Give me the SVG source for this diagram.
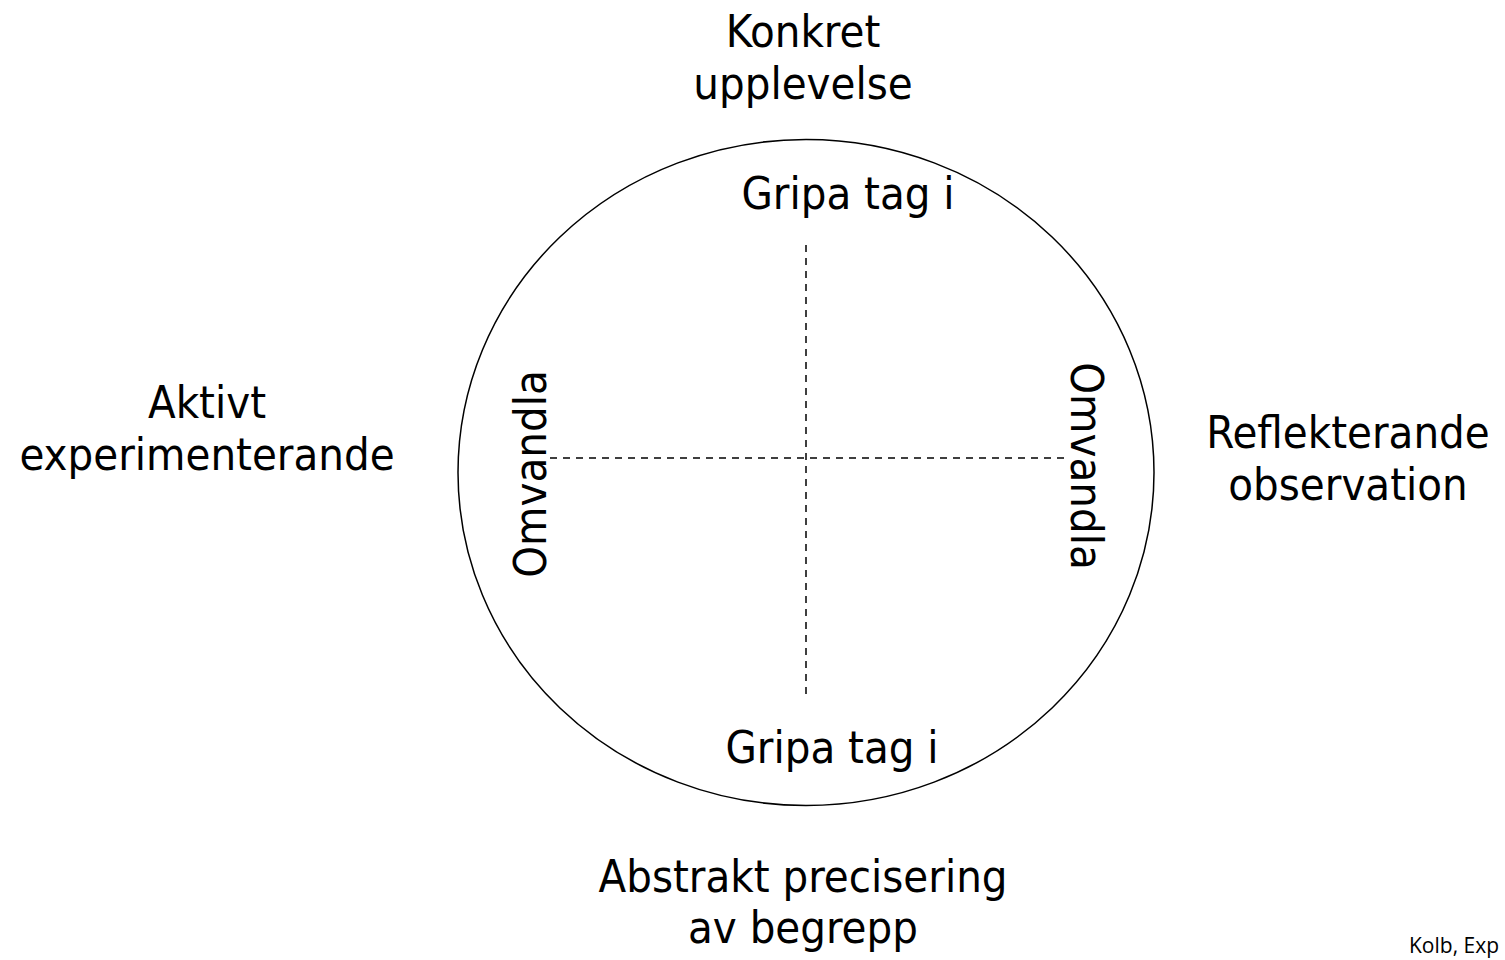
<svg xmlns="http://www.w3.org/2000/svg" width="1505" height="960" viewBox="0 0 1505 960">
<style>
.lbl{font-family:"DejaVu Sans Condensed","DejaVu Sans",sans-serif;font-size:45px;fill:#000;text-anchor:middle}
.ref{font-family:"Open Sans","Liberation Sans",sans-serif;font-size:21px;fill:#000}
.dash{stroke:#000;stroke-width:1.5;stroke-dasharray:7 6;fill:none}
</style>
<rect width="1505" height="960" fill="#fff"/>
<g id="cycle">
<ellipse cx="806" cy="472.5" rx="348" ry="333" fill="none" stroke="#000" stroke-width="1.5"/>
</g>
<g id="connectors">
<line class="dash" x1="806" y1="245" x2="806" y2="697"/>
<line class="dash" x1="550" y1="458" x2="1066" y2="458"/>
</g>
<g id="konkret"><text class="lbl" x="803" y="47">Konkret</text><text class="lbl" x="803" y="99">upplevelse</text></g>
<g id="aktivt"><text class="lbl" x="207" y="418">Aktivt</text><text class="lbl" x="207" y="470">experimenterande</text></g>
<g id="reflekterande"><text class="lbl" x="1348" y="448">Reflekterande</text><text class="lbl" x="1348" y="500">observation</text></g>
<g id="abstrakt"><text class="lbl" x="803" y="892">Abstrakt precisering</text><text class="lbl" x="803" y="943">av begrepp</text></g>
<g id="gripa-top"><text class="lbl" x="848" y="209">Gripa tag i</text></g>
<g id="gripa-bottom"><text class="lbl" x="832" y="763">Gripa tag i</text></g>
<g id="omvandla-left"><text class="lbl" transform="translate(546,474) rotate(-90)">Omvandla</text></g>
<g id="omvandla-right"><text class="lbl" transform="translate(1071,466) rotate(90)">Omvandla</text></g>
<g id="source"><text class="ref" x="1409" y="953">Kolb, Exp</text></g>
</svg>
